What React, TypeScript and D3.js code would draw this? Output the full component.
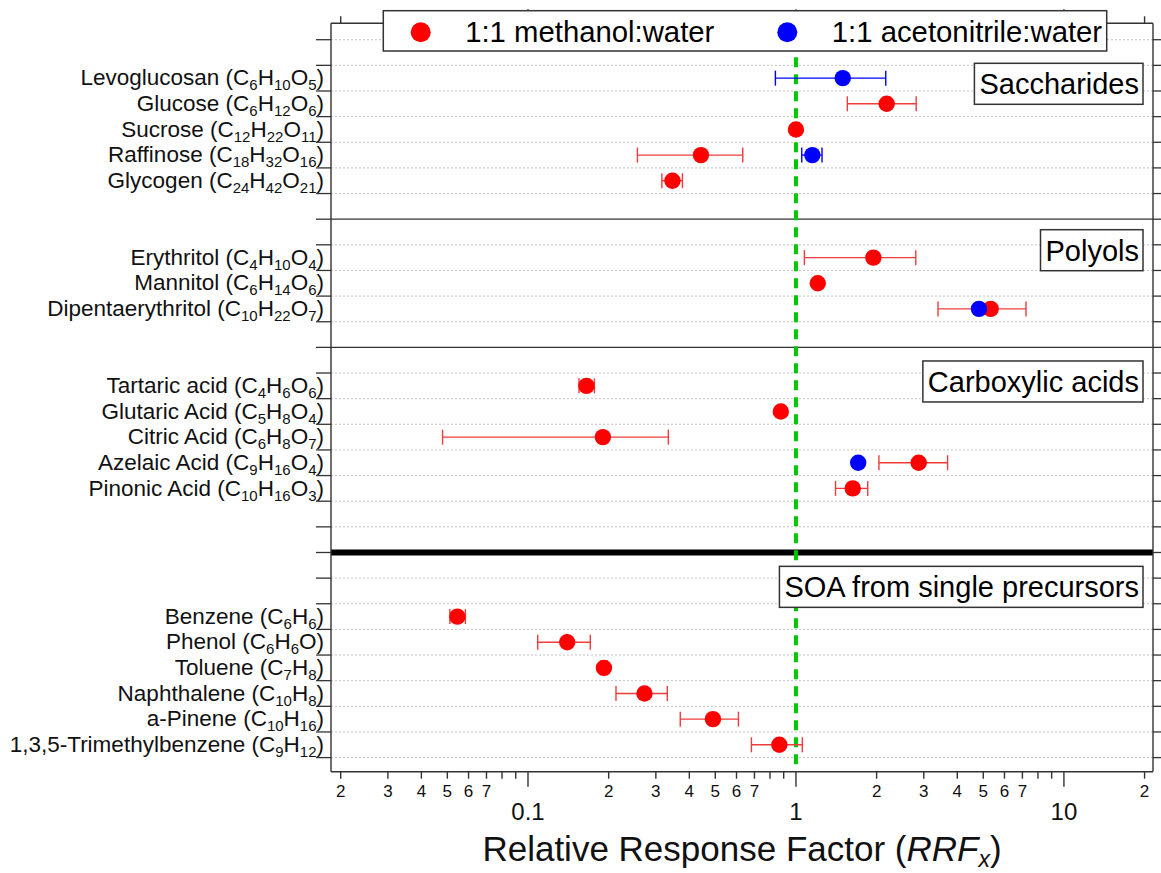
import React, { useEffect, useRef } from "react";
import * as d3 from "d3";

// ---------- data ----------
const categories = [
  "", "Levoglucosan", "Glucose", "Sucrose", "Raffinose", "Glycogen", "",
  "", "Erythritol", "Mannitol", "Dipentaerythritol", "",
  "", "Tartaric acid", "Glutaric Acid", "Citric Acid", "Azelaic Acid", "Pinonic Acid", "", "",
  "", "", "Benzene", "Phenol", "Toluene", "Naphthalene", "a-Pinene", "1,3,5-Trimethylbenzene",
];
const formulas = [
  "", "C6H10O5", "C6H12O6", "C12H22O11", "C18H32O16", "C24H42O21", "",
  "", "C4H10O4", "C6H14O6", "C10H22O7", "",
  "", "C4H6O6", "C5H8O4", "C6H8O7", "C9H16O4", "C10H16O3", "", "",
  "", "", "C6H6", "C6H6O", "C7H8", "C10H8", "C10H16", "C9H12",
];

const sectionNames = ["Saccharides", "Polyols", "Carboxylic acids", "SOA from single precursors"];
const sectionLabelRows = [1.72, 8.21, 13.33, 21.34];
const thinDividers = [7, 12];
const thickDivider = 20;

const seriesNames = ["1:1 methanol:water", "1:1 acetonitrile:water"];
const seriesColors = ["#ff0000", "#0000ff"];
const errorColors = ["#f03c3c", "#0000ff"];

const methanolCompounds = [
  "Glucose", "Sucrose", "Raffinose", "Glycogen",
  "Erythritol", "Mannitol", "Dipentaerythritol",
  "Tartaric acid", "Glutaric Acid", "Citric Acid", "Azelaic Acid", "Pinonic Acid",
  "Benzene", "Phenol", "Toluene", "Naphthalene", "a-Pinene", "1,3,5-Trimethylbenzene",
];
const methanolRRF = [2.18, 1.0, 0.442, 0.346, 1.945, 1.206, 5.33, 0.1653, 0.878, 0.1903, 2.87, 1.629, 0.0545, 0.14, 0.192, 0.272, 0.49, 0.867];
const methanolLow = [1.555, 0.99, 0.256, 0.316, 1.075, 1.18, 3.39, 0.155, 0.87, 0.048, 2.04, 1.405, 0.0511, 0.1087, 0.187, 0.213, 0.37, 0.682];
const methanolHigh = [2.81, 1.01, 0.633, 0.377, 2.8, 1.23, 7.22, 0.177, 0.886, 0.334, 3.68, 1.853, 0.0584, 0.1708, 0.197, 0.331, 0.61, 1.056];

const acetonitrileCompounds = ["Levoglucosan", "Raffinose", "Dipentaerythritol", "Azelaic Acid"];
const acetonitrileRRF = [1.495, 1.151, 4.82, 1.707];
const acetonitrileLow = [0.838, 1.051, 4.82, 1.707];
const acetonitrileHigh = [2.163, 1.251, 4.82, 1.707];

const referenceRRF = 1;
const xDomain = [0.0184, 21.5];
const yDomain = [-0.64, 28.55];
const xTitle = "Relative Response Factor (";

// ---------- layout ----------
const W = 1161;
const H = 873;
const L = 331, R = 1153, T = 23.3, B = 771.7;
const FONT = "'Liberation Sans', Arial, Helvetica, sans-serif";
const NARROW = "'Liberation Sans Narrow', 'Arial Narrow', 'Liberation Sans', Arial, sans-serif";

export default function App() {
  const ref = useRef<SVGSVGElement | null>(null);

  useEffect(() => {
    const svg = d3.select(ref.current);
    svg.selectAll("*").remove();

    const x = d3.scaleLog().domain(xDomain).range([L, R]);
    const y = d3.scaleLinear().domain(yDomain).range([T, B]);
    const rowY = (name: string) => y(categories.indexOf(name) + 0.5);

    const g = svg.append("g");

    // gridlines
    const gridRows = d3.range(0, 29).filter((i) => !thinDividers.includes(i) && i !== thickDivider);
    g.selectAll("line.grid").data(gridRows).join("line")
      .attr("x1", L).attr("x2", R)
      .attr("y1", (d) => y(d)).attr("y2", (d) => y(d))
      .attr("stroke", "#c4c4c4").attr("stroke-width", 1).attr("stroke-dasharray", "2,2");

    // dividers
    g.selectAll("line.div").data(thinDividers).join("line")
      .attr("x1", L).attr("x2", R)
      .attr("y1", (d) => y(d)).attr("y2", (d) => y(d))
      .attr("stroke", "#333").attr("stroke-width", 1.2);
    g.append("line")
      .attr("x1", L).attr("x2", R)
      .attr("y1", y(thickDivider)).attr("y2", y(thickDivider))
      .attr("stroke", "#000").attr("stroke-width", 6);

    // y ticks left and right
    const tickRows = d3.range(0, 29);
    g.selectAll("line.lt").data(tickRows).join("line")
      .attr("x1", L - 15).attr("x2", L)
      .attr("y1", (d) => y(d)).attr("y2", (d) => y(d))
      .attr("stroke", "#333").attr("stroke-width", 1.3);
    g.selectAll("line.rt").data(tickRows).join("line")
      .attr("x1", R).attr("x2", R + 8)
      .attr("y1", (d) => y(d)).attr("y2", (d) => y(d))
      .attr("stroke", "#333").attr("stroke-width", 1.3);

    // category labels with subscripts
    categories.forEach((name, i) => {
      if (!name) return;
      const t = g.append("text")
        .attr("x", L - 7).attr("y", y(i + 0.5) + 7.2)
        .attr("text-anchor", "end")
        .attr("font-family", FONT).attr("font-size", 22.5).attr("fill", "#111");
      t.append("tspan").text(name + " (");
      const parts = formulas[i].match(/[A-Z][a-z]?|\d+/g) || [];
      let sub = false;
      parts.forEach((p) => {
        const isNum = /\d/.test(p);
        const ts = t.append("tspan").text(p);
        if (isNum) {
          ts.attr("font-size", 15);
          if (!sub) ts.attr("dy", 5);
          sub = true;
        } else if (sub) {
          ts.attr("dy", -5);
          sub = false;
        }
      });
      const close = t.append("tspan").text(")");
      if (sub) close.attr("dy", -5);
    });

    // reference line at RRF = 1
    g.append("line")
      .attr("x1", x(referenceRRF)).attr("x2", x(referenceRRF))
      .attr("y1", T).attr("y2", B)
      .attr("stroke", "#00c800").attr("stroke-width", 4).attr("stroke-dasharray", "10,7");

    // error bars and markers
    const drawSeries = (names: string[], vals: number[], lo: number[], hi: number[], si: number) => {
      const data = names.map((n, i) => ({ n, v: vals[i], lo: lo[i], hi: hi[i] }));
      const eb = g.append("g").attr("stroke", errorColors[si]).attr("stroke-width", 1.4);
      data.forEach((d) => {
        if (d.hi <= d.lo) return;
        const cy = rowY(d.n);
        eb.append("line").attr("x1", x(d.lo)).attr("x2", x(d.hi)).attr("y1", cy).attr("y2", cy);
        eb.append("line").attr("x1", x(d.lo)).attr("x2", x(d.lo)).attr("y1", cy - 7.5).attr("y2", cy + 7.5);
        eb.append("line").attr("x1", x(d.hi)).attr("x2", x(d.hi)).attr("y1", cy - 7.5).attr("y2", cy + 7.5);
      });
      return data;
    };
    const m = drawSeries(methanolCompounds, methanolRRF, methanolLow, methanolHigh, 0);
    const a = drawSeries(acetonitrileCompounds, acetonitrileRRF, acetonitrileLow, acetonitrileHigh, 1);
    g.selectAll("circle.m").data(m).join("circle")
      .attr("cx", (d) => x(d.v)).attr("cy", (d) => rowY(d.n)).attr("r", 8.2)
      .attr("fill", seriesColors[0]);
    g.selectAll("circle.a").data(a).join("circle")
      .attr("cx", (d) => x(d.v)).attr("cy", (d) => rowY(d.n)).attr("r", 8.2)
      .attr("fill", seriesColors[1]);

    // axes frame
    const frame = g.append("g").attr("stroke", "#333").attr("stroke-width", 1.4);
    frame.append("line").attr("x1", L).attr("x2", L).attr("y1", T).attr("y2", B);
    frame.append("line").attr("x1", R).attr("x2", R).attr("y1", T).attr("y2", B);
    frame.append("line").attr("x1", L).attr("x2", R).attr("y1", T).attr("y2", T);
    frame.append("line").attr("x1", L).attr("x2", R).attr("y1", B).attr("y2", B);

    // x ticks
    const ticks = x.ticks();
    const isMajor = (v: number) => Math.abs(Math.log10(v) - Math.round(Math.log10(v))) < 1e-6;
    ticks.forEach((v) => {
      const px = x(v);
      const major = isMajor(v);
      frame.append("line").attr("x1", px).attr("x2", px).attr("y1", B).attr("y2", B + (major ? 15 : 7));
      frame.append("line").attr("x1", px).attr("x2", px).attr("y1", T).attr("y2", T - (major ? 14 : 7));
      if (major) {
        g.append("text").attr("x", px).attr("y", B + 48)
          .attr("text-anchor", "middle").attr("font-family", NARROW).attr("font-size", 24).attr("fill", "#111")
          .text(String(+v.toPrecision(3)));
      } else {
        const lead = Math.round(v / Math.pow(10, Math.floor(Math.log10(v) + 1e-9)));
        if (lead <= 7) {
          g.append("text").attr("x", px).attr("y", B + 25)
            .attr("text-anchor", "middle").attr("font-family", NARROW).attr("font-size", 17).attr("fill", "#111")
            .text(String(lead));
        }
      }
    });

    // x title
    const title = g.append("text").attr("x", (L + R) / 2).attr("y", 861)
      .attr("text-anchor", "middle").attr("font-family", FONT).attr("font-size", 35).attr("fill", "#111");
    title.append("tspan").text(xTitle);
    title.append("tspan").attr("font-style", "italic").text("RRF");
    title.append("tspan").attr("font-style", "italic").attr("font-size", 23).attr("dy", 6).text("x");
    title.append("tspan").attr("dy", -6).text(")");

    // section label boxes
    sectionNames.forEach((s, i) => {
      const cy = y(sectionLabelRows[i]);
      const bg = g.append("g");
      const rect = bg.append("rect");
      const t = bg.append("text").attr("x", 1139).attr("y", cy + 10.4)
        .attr("text-anchor", "end").attr("font-family", FONT).attr("font-size", 29).attr("fill", "#000").text(s);
      const w = (t.node() as SVGTextElement).getComputedTextLength();
      rect.attr("x", 1139 - w - 5).attr("y", cy - 20.5).attr("width", w + 9).attr("height", 41)
        .attr("fill", "#fff").attr("stroke", "#333").attr("stroke-width", 1.5);
    });

    // legend
    const lg = g.append("g");
    lg.append("rect").attr("x", 383.3).attr("y", 10.7).attr("width", 723.4).attr("height", 40.3)
      .attr("fill", "#fff").attr("stroke", "#333").attr("stroke-width", 1.5);
    const legendX = [420.7, 787.3];
    seriesNames.forEach((s, i) => {
      lg.append("circle").attr("cx", legendX[i]).attr("cy", 32.3).attr("r", 10).attr("fill", seriesColors[i]);
      lg.append("text").attr("x", legendX[i] + 44.5).attr("y", 42.3)
        .attr("font-family", FONT).attr("font-size", 29.3).attr("fill", "#000").text(s);
    });
  }, []);

  return (
    <svg
      ref={ref}
      width={W}
      height={H}
      style={{ position: "absolute", left: 0, top: 0, background: "#fff" }}
    />
  );
}
